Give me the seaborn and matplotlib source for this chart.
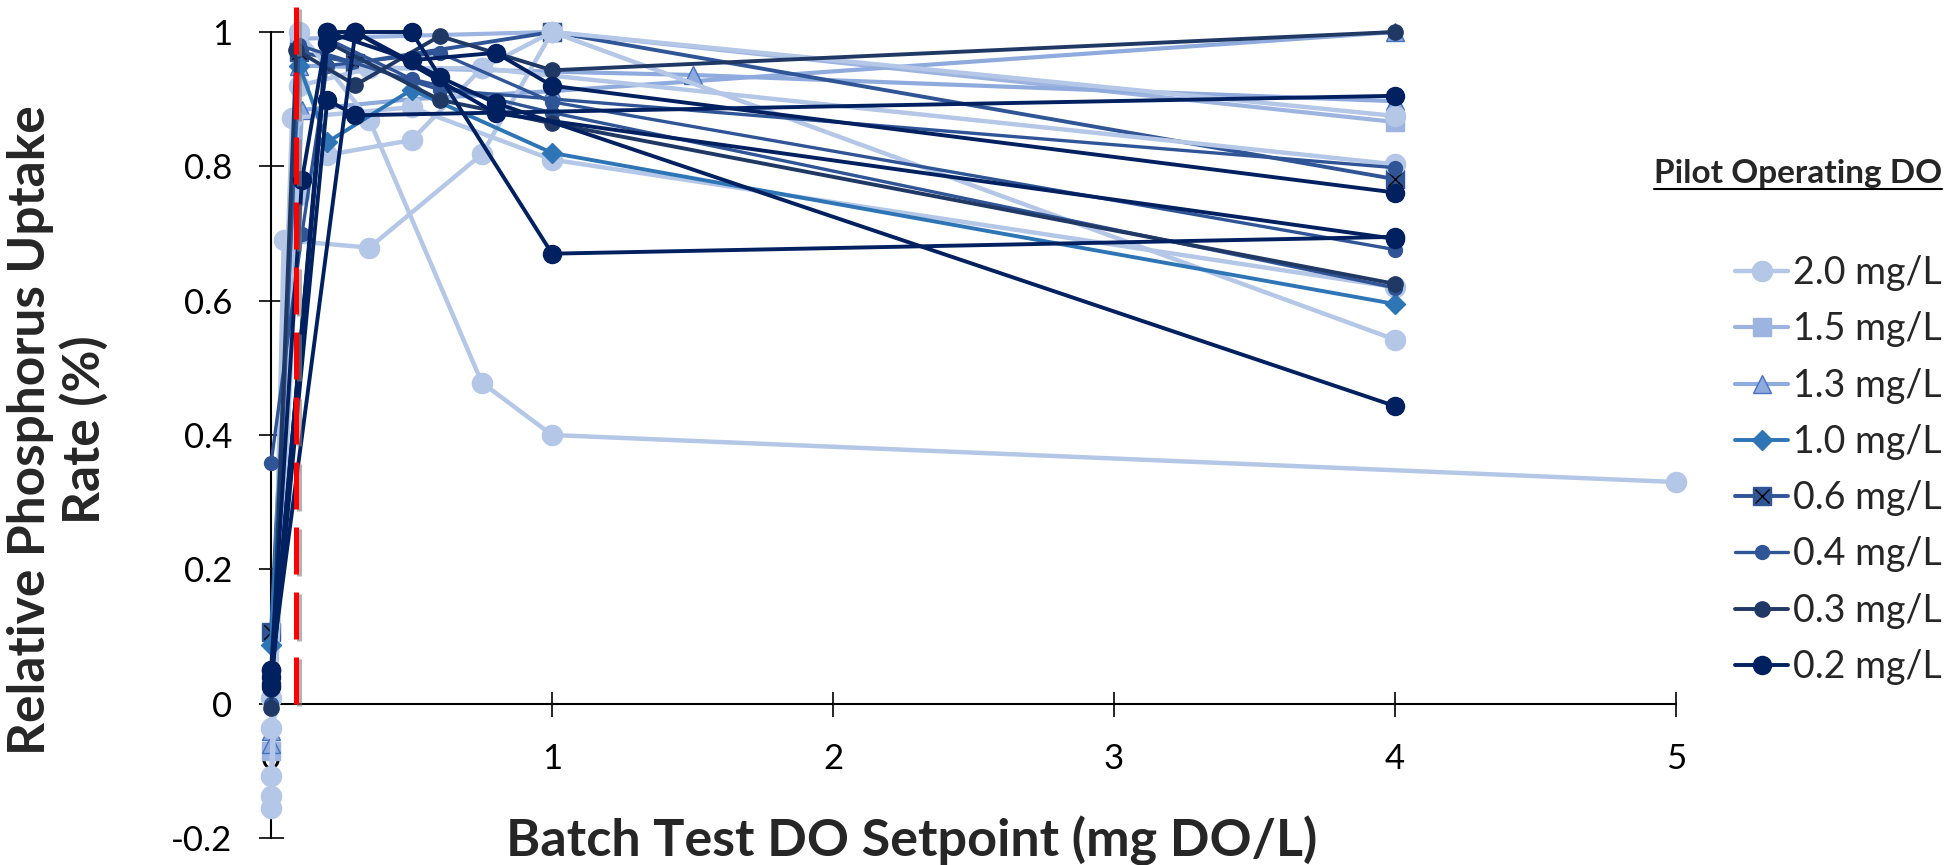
import numpy as np
import pandas as pd
import matplotlib
matplotlib.use("Agg")
import matplotlib.pyplot as plt
import matplotlib.patheffects as pe
from matplotlib.lines import Line2D
import seaborn as sns

# Pilot operating DO (legend order)
categories = ["2.0 mg/L", "1.5 mg/L", "1.3 mg/L", "1.0 mg/L", "0.6 mg/L", "0.4 mg/L", "0.3 mg/L", "0.2 mg/L"]

# batch tests per pilot DO: x = batch test DO setpoint, y = relative P uptake rate
x_20 = [[0, 0.1, 0.35, 0.75, 1.0, 5],
        [0, 0.045, 0.35, 0.75, 1.0, 4],
        [0, 0.1, 0.2, 0.5, 0.75, 1.0, 4],
        [0, 0.1, 0.35, 0.75, 4],
        [0, 0.075, 0.5, 1.0, 4]]
y_20 = [[-0.155, 1.0, 0.869, 0.478, 0.40, 0.33],
        [-0.138, 0.69, 0.679, 0.818, 1.0, 0.542],
        [-0.108, 0.757, 0.817, 0.839, 0.946, 1.0, 0.875],
        [0.009, 0.92, 0.946, 0.946, 0.803],
        [-0.036, 0.872, 0.888, 0.81, 0.62]]

x_15 = [[0, 0.1, 1.0, 4]]
y_15 = [[-0.07, 0.99, 1.0, 0.866]]

x_13 = [[0, 0.11, 0.5, 1.0, 4],
        [0, 0.1, 1.5, 4]]
y_13 = [[-0.04, 0.884, 0.90, 0.912, 1.0],
        [-0.06, 0.95, 0.936, 0.897]]

x_10 = [[0, 0.1, 0.2, 0.5, 1.0, 4]]
y_10 = [[0.088, 0.95, 0.836, 0.914, 0.82, 0.595]]

x_06 = [[0, 0.1, 0.3, 1.0, 4]]
y_06 = [[0.107, 0.97, 0.954, 1.0, 0.781]]

x_04 = [[0, 0.11, 0.2, 0.6, 1.0, 4],
        [0, 0.1, 0.6, 4],
        [0, 0.2, 0.5, 1.0, 4]]
y_04 = [[0.358, 0.70, 0.95, 0.969, 0.896, 0.676],
        [0.0, 0.98, 0.914, 0.798],
        [0.02, 0.99, 0.93, 0.88, 0.619]]

x_03 = [[0, 0.09, 0.3, 0.6, 1.0, 4],
        [0, 0.2, 0.6, 1.0, 4]]
y_03 = [[-0.006, 0.973, 0.921, 0.994, 0.943, 1.0],
        [0.03, 0.985, 0.899, 0.864, 0.625]]

x_02 = [[0, 0.11, 0.2, 0.5, 1.0, 4],
        [0, 0.2, 0.3, 4],
        [0, 0.2, 0.3, 0.6, 0.8, 4],
        [0, 0.2, 0.5, 0.8, 1.0, 4],
        [0, 0.3, 0.8, 4]]
y_02 = [[0.05, 0.78, 1.0, 1.0, 0.67, 0.695],
        [0.025, 0.899, 0.876, 0.905],
        [0.04, 0.984, 1.0, 0.933, 0.894, 0.443],
        [0.03, 1.0, 0.958, 0.969, 0.92, 0.761],
        [0.05, 1.0, 0.879, 0.692]]

# red reference line (batch DO setpoint)
ref_do = 0.09

series_x = [x_20, x_15, x_13, x_10, x_06, x_04, x_03, x_02]
series_y = [y_20, y_15, y_13, y_10, y_06, y_04, y_03, y_02]

# Stil je Kategorie: Farbe, Marker, Markergroesse, Kantenfarbe, Linienbreite
styles = {
    "2.0 mg/L": ("#B4C7E7", "o", 14.5, "#B4C7E7", 3.2),
    "1.5 mg/L": ("#9DB4E0", "s", 13.0, "#9DB4E0", 3.0),
    "1.3 mg/L": ("#8FAADC", "^", 13.0, "#4472C4", 3.0),
    "1.0 mg/L": ("#2E75B6", "D", 10.5, "#2E75B6", 2.8),
    "0.6 mg/L": ("#2F5597", "s", 13.0, "#2F5597", 2.8),
    "0.4 mg/L": ("#2F5597", "o", 10.0, "#2F5597", 2.4),
    "0.3 mg/L": ("#203864", "o", 11.0, "#203864", 2.8),
    "0.2 mg/L": ("#002060", "o", 13.0, "#002060", 2.8),
}

# Long table fuer seaborn
rows = []
for cat, xs, ys in zip(categories, series_x, series_y):
    for run, (xr, yr) in enumerate(zip(xs, ys)):
        for xv, yv in zip(xr, yr):
            rows.append({"pilot": cat, "run": run, "setpoint": xv, "uptake": yv})
data = pd.DataFrame(rows)

sns.set_style("white")
plt.rcParams["font.family"] = ["Lato", "DejaVu Sans"]
plt.rcParams["axes.unicode_minus"] = False

fig = plt.figure(figsize=(19.46, 8.65), dpi=100)
ax = fig.add_axes([0.1393, 0.0312, 0.722, 0.9318])

draw_order = ["1.5 mg/L", "1.3 mg/L", "0.6 mg/L", "2.0 mg/L", "1.0 mg/L", "0.4 mg/L", "0.3 mg/L", "0.2 mg/L"]
for z, cat in enumerate(draw_order):
    color, marker, ms, edge, lw = styles[cat]
    sub = data[data["pilot"] == cat]
    sns.lineplot(data=sub, x="setpoint", y="uptake", units="run", estimator=None, sort=False,
                 color=color, marker=marker, markersize=ms, markerfacecolor=color,
                 markeredgecolor=edge, markeredgewidth=1.0, linewidth=lw,
                 clip_on=False, zorder=3 + z, legend=False, ax=ax)
    if cat == "0.6 mg/L":
        sns.scatterplot(data=sub, x="setpoint", y="uptake", marker="x", color="black",
                        s=110, linewidth=1.0, clip_on=False, zorder=3 + z, legend=False, ax=ax)

# rote Linie
ax.plot([ref_do, ref_do], [0, 1.04], color="red", linewidth=3.6, dashes=(9.4, 3.6),
        solid_capstyle="butt", clip_on=False, zorder=20,
        path_effects=[pe.SimpleLineShadow(offset=(2, -2), shadow_color="gray", alpha=0.6), pe.Normal()])

ax.set_xlim(0, 5)
ax.set_ylim(-0.2, 1.0)
ax.set_xticks([0, 1, 2, 3, 4, 5])
ax.set_yticks([-0.2, 0, 0.2, 0.4, 0.6, 0.8, 1.0])
ax.yaxis.set_major_formatter(plt.FuncFormatter(lambda v, p: f"{v:g}"))
ax.spines["bottom"].set_position(("data", 0))
ax.spines["top"].set_visible(False)
ax.spines["right"].set_visible(False)
for s in ["left", "bottom"]:
    ax.spines[s].set_color("black")
    ax.spines[s].set_linewidth(1.5)
ax.tick_params(axis="both", direction="inout", length=18, width=1.2, labelsize=25,
               colors="black", pad=19, bottom=True, left=True)
ax.set_xlabel("")
ax.set_ylabel("")
ax.set_facecolor("white")

fig.text(58 / 1946, 1 - 430 / 865, "Relative Phosphorus Uptake\nRate (%)", rotation=90,
         ha="center", va="center", multialignment="center", linespacing=1.15,
         fontsize=37, fontweight="bold")
fig.text(912 / 1946, 1 - 856 / 865, "Batch Test DO Setpoint (mg DO/L)",
         ha="center", va="baseline", fontsize=37.5, fontweight="bold")

# Legende
handles = []
for cat in categories:
    color, marker, ms, edge, lw = styles[cat]
    h = Line2D([], [], color=color, marker=marker, markersize=ms, markerfacecolor=color,
               markeredgecolor=edge, markeredgewidth=1.0, linewidth=lw)
    if cat == "0.6 mg/L":
        hx = Line2D([], [], color="black", marker="x", markersize=10, linestyle="none", markeredgewidth=1.0)
        h = (h, hx)
    handles.append(h)
ax.legend(handles, categories, loc="center left", bbox_to_anchor=(1735 / 1946, 1 - 470 / 865),
          bbox_transform=fig.transFigure, frameon=False, fontsize=27, handlelength=1.42,
          handletextpad=0.13, labelspacing=0.54, borderpad=0, borderaxespad=0)

title = fig.text(1942 / 1946, 1 - 173 / 865, "Pilot Operating DO", ha="right", va="center",
                 fontsize=24, fontweight="bold")
fig.canvas.draw()
bb = title.get_window_extent()
fig.add_artist(Line2D([bb.x0 / 1946, bb.x1 / 1946], [(bb.y0 - 1) / 865, (bb.y0 - 1) / 865],
                      color="black", linewidth=1.5, transform=fig.transFigure))

fig.savefig("out.png", dpi=100, facecolor="white")
